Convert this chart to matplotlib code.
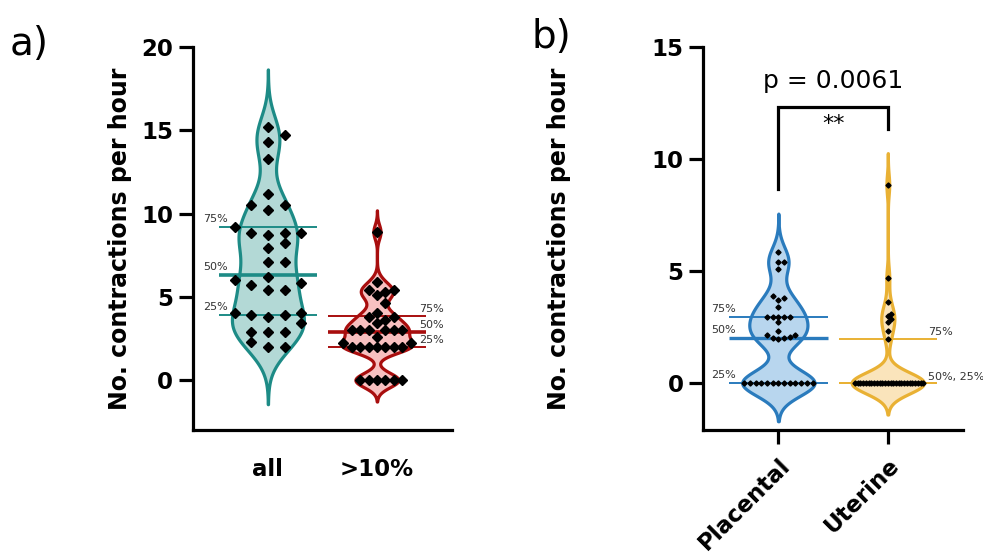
import numpy as np
import matplotlib
matplotlib.use('Agg')
import matplotlib.pyplot as plt

plt.rcParams['font.family'] = 'DejaVu Sans'

# panel a data (contractions per hour)
all_vals = [15.2, 14.7, 14.3, 13.3, 11.2, 10.5, 10.5, 10.2, 9.2, 8.8, 8.7, 8.8, 8.8,
            8.2, 7.9, 7.1, 7.1, 6.2, 6.0, 5.8, 5.7, 5.4, 5.4, 4.0, 3.8, 3.9, 3.9, 4.0,
            3.4, 2.9, 2.9, 2.9, 2.3, 2.0, 2.0]
gt10_vals = [8.9, 5.9, 5.4, 5.4, 5.3, 5.1, 4.6, 4.0, 3.8, 3.8, 3.6, 3.4,
             3.0, 3.0, 3.0, 3.0, 3.0, 3.0, 2.6, 2.2, 2.2,
             2.0, 2.0, 2.0, 2.0, 2.0, 2.0, 2.0, 0, 0, 0, 0, 0, 0]
# panel b data
placental_vals = [5.85, 5.4, 5.4, 5.1, 3.9, 3.8, 3.7, 3.4, 2.95, 2.95, 2.95, 2.95, 2.95,
                  2.7, 2.3, 2.15, 2.15, 2.05, 2.0, 2.0, 1.95] + [0] * 13
uterine_vals = [8.85, 4.7, 3.6, 3.1, 3.0, 2.85, 2.7, 2.3, 1.95] + [0] * 26

labels_a = ['all', '>10%']
labels_b = ['Placental', 'Uterine']
quart_a = [[3.9, 6.3, 9.2], [2.0, 2.9, 3.85]]
quart_b = [[0.0, 2.0, 2.95], [0.0, 0.0, 1.95]]
p_text = 'p = 0.0061'


def kde(vals, h, pad=3.0):
    v = np.asarray(vals, float)
    ys = np.linspace(v.min() - pad * h, v.max() + pad * h, 400)
    d = np.exp(-0.5 * ((ys[:, None] - v[None, :]) / h) ** 2).sum(1)
    return dict(coords=ys, vals=d, mean=v.mean(), median=np.median(v), min=v.min(), max=v.max())


def swarm(vals, dx, ytol):
    v = np.asarray(vals, float)
    ks = np.zeros(len(v))
    placed = []
    for i in np.argsort(v, kind='stable'):
        k = 0
        for step in range(60):
            k = (step + 1) // 2 * (1 if step % 2 else -1)
            if not any(kk == k and abs(yy - v[i]) < ytol for kk, yy in placed):
                break
        placed.append((k, v[i]))
        ks[i] = k
    return ks * dx


def draw_violin(ax, pos, vals, h, edge, face):
    parts = ax.violin([kde(vals, h)], positions=[pos], widths=0.66,
                      showmeans=False, showextrema=False, showmedians=False)
    for b in parts['bodies']:
        b.set_facecolor(face)
        b.set_edgecolor(edge)
        b.set_linewidth(2.3)
        b.set_alpha(1)
        b.set_zorder(2)
    return parts


def style(ax, ylim, yticks, xticks_on):
    ax.set_xlim(0.31, 2.69)
    ax.set_ylim(*ylim)
    ax.set_yticks(yticks)
    for s in ['top', 'right']:
        ax.spines[s].set_visible(False)
    for s in ['left', 'bottom']:
        ax.spines[s].set_linewidth(2.3)
    ax.tick_params(axis='y', width=2.3, length=10, labelsize=16.5, pad=4)
    if xticks_on:
        ax.tick_params(axis='x', width=2.3, length=10, labelsize=16.5, pad=7)
    else:
        ax.tick_params(axis='x', length=0, labelsize=16.5, pad=20)
    for t in ax.get_yticklabels() + ax.get_xticklabels():
        t.set_fontweight('bold')
    ax.set_ylabel('No. contractions per hour', fontsize=17, fontweight='bold')


fig = plt.figure(figsize=(9.83, 5.58), dpi=100)
axA = fig.add_axes([0.196, 0.2294, 0.264, 0.6864])
axB = fig.add_axes([0.715, 0.2294, 0.265, 0.6864])

# ---- panel a
groups_a = [
    (1, all_vals, 1.15, '#1d8b86', '#b3d9d6', 0.153, 0.6),
    (2, gt10_vals, 0.43, '#a80e0e', '#f7c0c0', 0.077, 0.6),
]
for (pos, vals, h, edge, face, dx, ytol), q in zip(groups_a, quart_a):
    draw_violin(axA, pos, vals, h, edge, face)
    for j, qv in enumerate(q):
        axA.plot([pos - 0.45, pos + 0.45], [qv, qv], color=edge,
                 lw=2.6 if j == 1 else 1.4, zorder=3, solid_capstyle='butt')
    axA.plot(pos + swarm(vals, dx, ytol), vals, 'D', color='black', ms=5.2, zorder=4)

for qv, name in zip(quart_a[0], ['25%', '50%', '75%']):
    axA.text(1 - 0.59, qv + 0.2, name, fontsize=8, color='#333333', ha='left', va='bottom')
for qv, name in zip(quart_a[1], ['25%', '50%', '75%']):
    axA.text(2 + 0.39, qv + 0.1, name, fontsize=8, color='#333333', ha='left', va='bottom')

axA.set_xticks([1, 2], labels_a)
style(axA, (-3, 20), [0, 5, 10, 15, 20], False)
axA.yaxis.set_label_coords(-0.235, 0.5)

# ---- panel b
groups_b = [
    (1, placental_vals, 0.57, '#2a7bbd', '#b8d6ee', 0.052, 0.2),
    (2, uterine_vals, 0.47, '#e9b134', '#fae4bb', 0.025, 0.2),
]
for (pos, vals, h, edge, face, dx, ytol), q in zip(groups_b, quart_b):
    draw_violin(axB, pos, vals, h, edge, face)
    lw_med = 2.4 if pos == 1 else 1.3
    for j, qv in enumerate(q):
        axB.plot([pos - 0.45, pos + 0.45], [qv, qv], color=edge,
                 lw=lw_med if j == 1 else 1.4, zorder=3, solid_capstyle='butt')
    axB.plot(pos + swarm(vals, dx, ytol), vals, 'D', color='black', ms=2.6, zorder=4)

for qv, name in zip(quart_b[0], ['25%', '50%', '75%']):
    axB.text(1 - 0.615, qv + 0.12, name, fontsize=8, color='#333333', ha='left', va='bottom')
axB.text(2 + 0.37, quart_b[1][2] + 0.12, '75%', fontsize=8, color='#333333', ha='left', va='bottom')
axB.text(2 + 0.37, quart_b[1][0] + 0.05, '50%, 25%', fontsize=8, color='#333333',
         ha='left', va='bottom', clip_on=False)

axB.plot([1, 1, 2, 2], [8.65, 12.3, 12.3, 11.35], color='black', lw=2.3,
         solid_joinstyle='miter')
axB.text(1.5, 11.55, '**', fontsize=16, ha='center', va='center')
axB.text(1.5, 13.5, p_text, fontsize=18, ha='center', va='center')

axB.set_xticks([1, 2], labels_b)
style(axB, (-2.1, 15), [0, 5, 10, 15], True)
for t in axB.get_xticklabels():
    t.set_rotation(45)
    t.set_ha('right')
    t.set_rotation_mode('anchor')
axB.yaxis.set_label_coords(-0.505, 0.5)

fig.text(0.01, 0.955, 'a)', fontsize=28, va='top', ha='left')
fig.text(0.541, 0.968, 'b)', fontsize=28, va='top', ha='left')

fig.savefig('out.png', dpi=100)
